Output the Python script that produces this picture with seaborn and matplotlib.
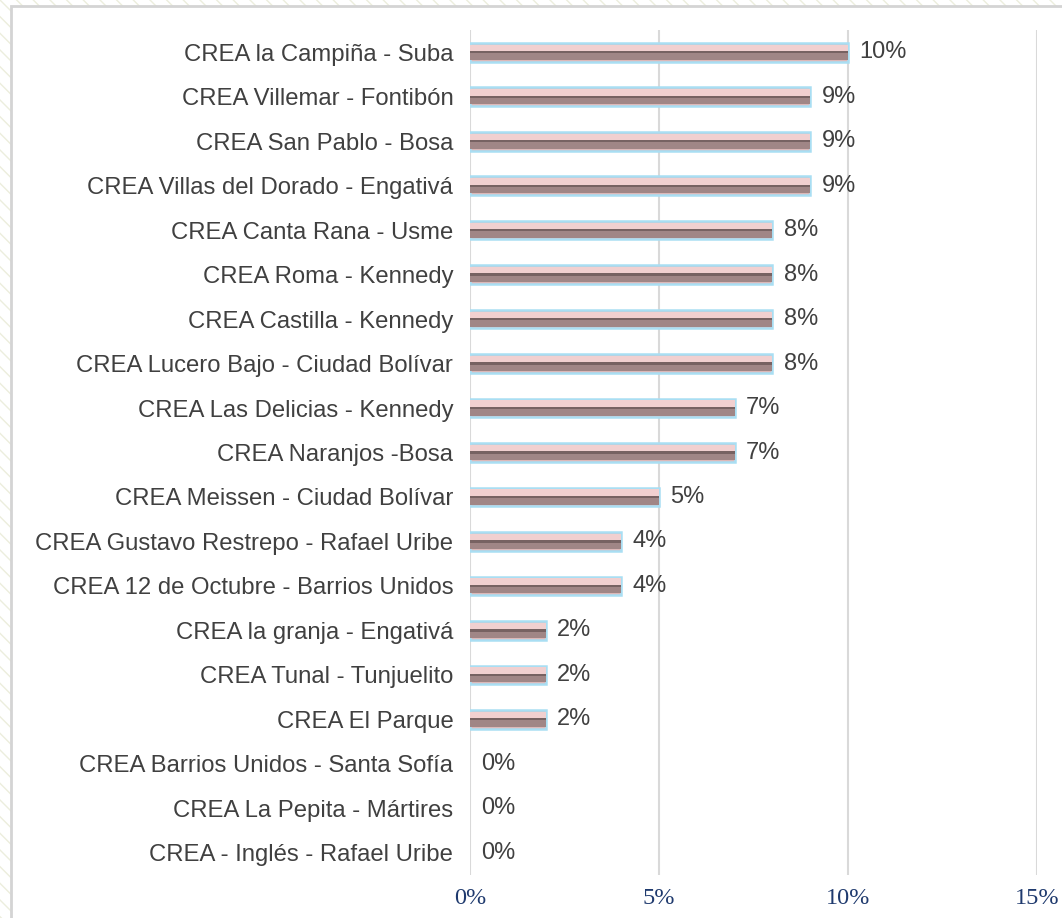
import matplotlib
matplotlib.use("Agg")
import matplotlib.pyplot as plt
import matplotlib.ticker as ticker
from matplotlib.patches import Rectangle
import seaborn as sns
import pandas as pd

centros = [
    "CREA la Campiña - Suba",
    "CREA Villemar - Fontibón",
    "CREA San Pablo - Bosa",
    "CREA Villas del Dorado - Engativá",
    "CREA Canta Rana - Usme",
    "CREA Roma - Kennedy",
    "CREA Castilla - Kennedy",
    "CREA Lucero Bajo - Ciudad Bolívar",
    "CREA Las Delicias - Kennedy",
    "CREA Naranjos -Bosa",
    "CREA Meissen - Ciudad Bolívar",
    "CREA Gustavo Restrepo - Rafael Uribe",
    "CREA 12 de Octubre - Barrios Unidos",
    "CREA la granja - Engativá",
    "CREA Tunal - Tunjuelito",
    "CREA El Parque",
    "CREA Barrios Unidos - Santa Sofía",
    "CREA La Pepita - Mártires",
    "CREA - Inglés - Rafael Uribe",
]
porcentaje = [10, 9, 9, 9, 8, 8, 8, 8, 7, 7, 5, 4, 4, 2, 2, 2, 0, 0, 0]
xticks = [0, 5, 10, 15]

df = pd.DataFrame({"centro": centros, "pct": porcentaje})
# two shading layers (top light / bottom dark) to fake the bevelled bars
capas = pd.concat([df.assign(capa="luz"), df.assign(capa="sombra")], ignore_index=True)

sns.set_style("white")
plt.rcParams['font.family'] = ['Liberation Sans', 'DejaVu Sans']

fig = plt.figure(figsize=(10.62, 9.18), dpi=100)

# hatched page background and white chart frame
fig.add_artist(Rectangle((0, 0), 1, 1, transform=fig.transFigure, facecolor="white",
                         edgecolor="#eceedd", hatch="\\\\", linewidth=0, zorder=-3))
fig.add_artist(Rectangle((11 / 1062, -0.01), 1.0, (918 - 6) / 918 + 0.01, transform=fig.transFigure,
                         facecolor="white", edgecolor="#d4d4d4", linewidth=2, zorder=-2))

ax = fig.add_axes([470 / 1062, (918 - 875) / 918, (1037 - 470) / 1062, 845 / 918])
ax.set_facecolor("none")

sns.barplot(data=df, y="centro", x="pct", orient="h", color="#e2b2b2", width=0.42,
            edgecolor="#a9def3", linewidth=1.8, ax=ax, zorder=3)
sns.barplot(data=capas, y="centro", x="pct", hue="capa", orient="h", dodge=True,
            palette={"luz": "#f6cbcb", "sombra": "#a48282"}, width=0.34,
            linewidth=0, ax=ax, zorder=4, legend=False)
sns.barplot(data=df, y="centro", x="pct", orient="h", color="#7a5e5e", width=0.05,
            linewidth=0, ax=ax, zorder=5)
for p in ax.patches:
    if p.get_width() == 0:
        p.set_visible(False)

for i, v in enumerate(porcentaje):
    ax.text(v + 0.3, i, f"{v}%", va="center", ha="left", fontsize=17, color="#404040")

ax.set_xlim(0, 15)
ax.set_xticks(xticks)
ax.xaxis.set_major_formatter(ticker.FuncFormatter(lambda v, p: f"{v:.0f}%"))
ax.grid(axis="x", color="#d9d9d9", linewidth=1.5, zorder=0)
ax.set_axisbelow(True)
for s in ax.spines.values():
    s.set_visible(False)
ax.tick_params(axis="both", length=0)
ax.tick_params(axis="y", pad=12, labelsize=17.2, labelcolor="#404040")
ax.tick_params(axis="x", pad=9)
for lab in ax.get_xticklabels():
    lab.set_family(["Liberation Serif", "DejaVu Serif"])
    lab.set_fontsize(17.5)
    lab.set_color("#1f3a6e")
ax.set_xlabel("")
ax.set_ylabel("")

fig.savefig("out.png", dpi=100)
